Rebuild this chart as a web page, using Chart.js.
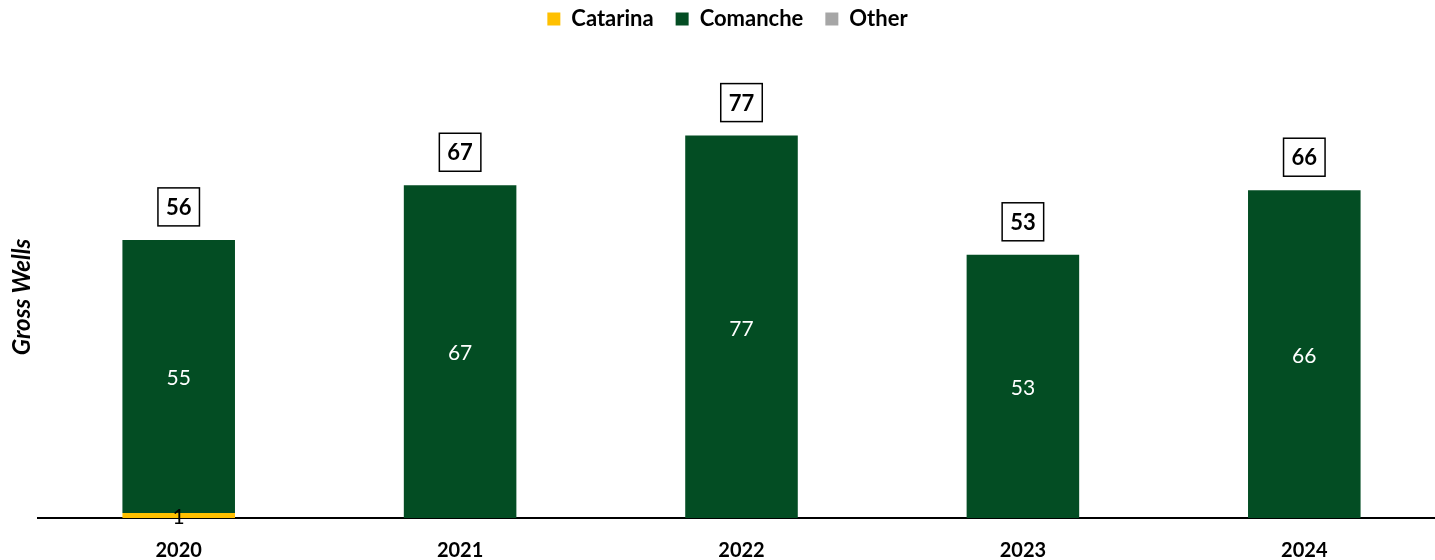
<!DOCTYPE html>
<html>
<head>
<meta charset="utf-8">
<script src="https://cdn.jsdelivr.net/npm/chart.js@4/dist/chart.umd.min.js"></script>
<style>
  html, body { margin: 0; padding: 0; background: #fff; overflow: hidden; }
  #wrap { width: 1445px; height: 560px; }
</style>
</head>
<body>
<div id="wrap"><canvas id="wells"></canvas></div>
<script>
// Gross wells per year, split by area
const years = ['2020', '2021', '2022', '2023', '2024'];
const catarina = [1, 0, 0, 0, 0];
const comanche = [55, 67, 77, 53, 66];
const other = [0, 0, 0, 0, 0];

const FONT = '"Lato", "Open Sans", sans-serif';

// value inside each segment + boxed total above each stack
const barLabels = {
    id: 'barLabels',
    afterDatasetsDraw(chart) {
        const ctx = chart.ctx;
        ctx.save();
        ctx.textAlign = 'center';
        ctx.textBaseline = 'middle';
        ctx.font = '21px ' + FONT;
        chart.data.datasets.forEach((ds, i) => {
            const meta = chart.getDatasetMeta(i);
            meta.data.forEach((bar, j) => {
                const v = ds.data[j];
                if (!v) return;
                ctx.fillStyle = ds.labelColor;
                ctx.fillText(String(v), bar.x, (bar.y + bar.base) / 2 + 2);
            });
        });

        // totals
        const last = chart.getDatasetMeta(1);
        ctx.font = 'bold 22px ' + FONT;
        years.forEach((y, j) => {
            const total = catarina[j] + comanche[j] + other[j];
            const bar = last.data[j];
            const cy = bar.y - 33;
            const w = ctx.measureText(String(total)).width + 16;
            const h = 38;
            ctx.fillStyle = '#fff';
            ctx.fillRect(bar.x - w / 2, cy - h / 2, w, h);
            ctx.lineWidth = 1.5;
            ctx.strokeStyle = '#000';
            ctx.strokeRect(bar.x - w / 2, cy - h / 2, w, h);
            ctx.fillStyle = '#000';
            ctx.fillText(String(total), bar.x, cy + 1);
        });
        ctx.restore();
    }
};

// fixed legend band height, and nudge the legend row a bit
const legendBand = {
    id: 'legendBand',
    beforeInit(chart) {
        const lg = chart.legend;
        const fit = lg.fit;
        lg.fit = function () {
            fit.bind(lg)();
            this.height = 76;
        };
        const draw = lg.draw;
        lg.draw = function () {
            const ctx = chart.ctx;
            ctx.save();
            ctx.translate(5, -14);
            draw.apply(lg, arguments);
            ctx.restore();
        };
    }
};

new Chart(document.getElementById('wells'), {
    type: 'bar',
    data: {
        labels: years,
        datasets: [
            { label: 'Catarina', data: catarina, backgroundColor: '#FFC000', labelColor: '#000' },
            { label: 'Comanche', data: comanche, backgroundColor: '#034D23', labelColor: '#fff' },
            { label: 'Other', data: other, backgroundColor: '#A6A6A6', labelColor: '#000' }
        ]
    },
    options: {
        responsive: true, maintainAspectRatio: false,
        animation: false,
        layout: { padding: 0 },
        datasets: { bar: { categoryPercentage: 1, barPercentage: 0.4 } },
        plugins: {
            legend: {
                position: 'top',
                labels: {
                    color: '#000',
                    boxWidth: 13, boxHeight: 13,
                    padding: 22,
                    font: { family: FONT, size: 22, weight: 'bold' }
                }
            },
            tooltip: { enabled: false }
        },
        scales: {
            x: {
                stacked: true,
                grid: { display: false },
                border: { color: '#000', width: 2 },
                ticks: { color: '#000', padding: 13, font: { family: FONT, size: 20, weight: 'bold' } },
                afterFit: (s) => { s.height = 42; }
            },
            y: {
                stacked: true,
                min: 0, max: 89,
                grid: { display: false },
                border: { display: false },
                ticks: { display: false },
                title: {
                    display: true, text: 'Gross Wells', color: '#000',
                    padding: { top: 8, bottom: 0 },
                    font: { family: FONT, size: 24, weight: 'bold', style: 'italic' }
                },
                afterFit: (s) => { s.width = 38; }
            }
        }
    },
    plugins: [barLabels, legendBand]
});
</script>
</body>
</html>
